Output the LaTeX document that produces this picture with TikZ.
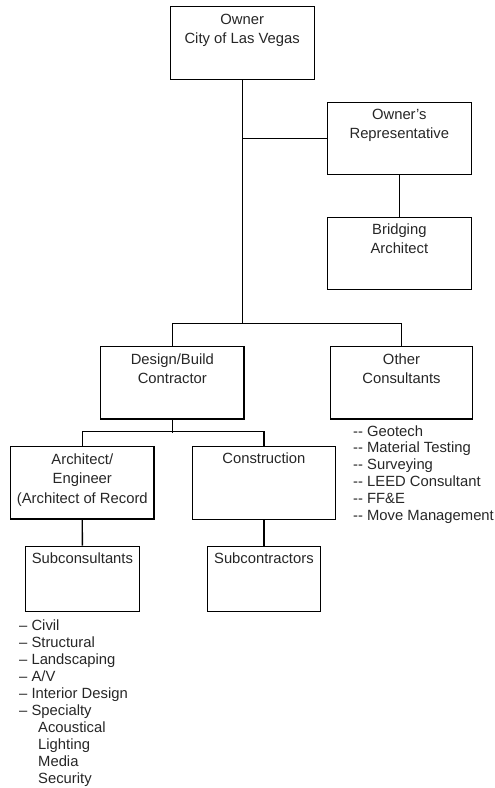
\documentclass[tikz,border=0pt]{standalone}
\usepackage{fontspec}
\setmainfont{Liberation Sans}
\usetikzlibrary{calc}
\tikzset{
  orgbox/.style={draw=black, line width=1.3pt, rectangle, inner sep=0pt, anchor=north west},
  boxtext/.style={align=center, inner sep=0pt, anchor=base, font=\fontsize{14.8}{19.5}\selectfont, text=black!85},
  listtext/.style={align=left, inner sep=0pt, anchor=base west, font=\fontsize{14.8}{16.9}\selectfont, text=black!85},
  conn/.style={draw=black, line width=1.3pt}
}
\begin{document}
\begin{tikzpicture}[x=1pt,y=-1pt]
\useasboundingbox (0,0) rectangle (495,788);
% boxes
\node[orgbox, minimum width=144pt, minimum height=73pt] (owner) at (169.5,6) {};
\node[orgbox, minimum width=144pt, minimum height=72.3pt] (rep) at (326.7,101.7) {};
\node[orgbox, minimum width=144pt, minimum height=72.3pt] (bridge) at (326.7,216.7) {};
\node[orgbox, minimum width=143.3pt, minimum height=72.3pt] (design) at (100,346) {};
\node[orgbox, minimum width=141.7pt, minimum height=72.3pt] (other) at (330,346) {};
\node[orgbox, minimum width=143.3pt, minimum height=72.3pt] (arch) at (10,446) {};
\node[orgbox, minimum width=143.5pt, minimum height=72.5pt] (cons) at (191.5,446) {};
\node[orgbox, minimum width=113.5pt, minimum height=65pt] (subcons) at (25,545.7) {};
\node[orgbox, minimum width=112.5pt, minimum height=64.7pt] (subcont) at (207,546) {};
% box texts (anchor base = baseline of the last line)
\node[boxtext] (ownert) at ($(owner.north)+(0,37.5)$) {Owner\\City of Las Vegas};
\node[boxtext] (rept) at ($(rep.north)+(0,37.2)$) {Owner's\\Representative};
\node[boxtext] (bridget) at ($(bridge.north)+(0,37.2)$) {Bridging\\Architect};
\node[boxtext] (designt) at ($(design.north)+(0,37.5)$) {Design/Build\\Contractor};
\node[boxtext] (othert) at ($(other.north)+(0,37.5)$) {Other\\Consultants};
\node[boxtext] (archt) at ($(arch.north)+(0,57)$) {Architect/\\Engineer\\(Architect of Record};
\node[boxtext] (const) at ($(cons.north)+(0,17.5)$) {Construction};
\node[boxtext] (subconst) at ($(subcons.north)+(0,17.5)$) {Subconsultants};
\node[boxtext] (subcontt) at ($(subcont.north)+(0,17.5)$) {Subcontractors};
% lists
\node[listtext] (otherlist) at (353,520.5) {-{}- Geotech\\-{}- Material Testing\\-{}- Surveying\\-{}- LEED Consultant\\-{}- FF\&E\\-{}- Move Management};
\node[listtext] (subconslist) at (19,783) {\textendash{} Civil\\\textendash{} Structural\\\textendash{} Landscaping\\\textendash{} A/V\\\textendash{} Interior Design\\\textendash{} Specialty\\\hspace*{19pt}Acoustical\\\hspace*{19pt}Lighting\\\hspace*{19pt}Media\\\hspace*{19pt}Security};
% connectors
\coordinate (hbar) at (0,323.3);
\coordinate (lbar) at (0,431.7);
\draw[conn] (owner.south) -- (owner.south |- hbar);
\draw[conn] (rep.west) -- (rep.west -| owner.south);
\draw[conn] (rep.south) -- (bridge.north);
\draw[conn] (design.north) -- (design.north |- hbar) -- (other.north |- hbar) -- (other.north);
\draw[conn] (design.south) -- ($(design.south |- lbar)+(0,1)$);
\draw[conn] (arch.north) -- (arch.north |- lbar) -- (cons.north |- lbar) -- (cons.north);
\draw[conn] (arch.south) -- (subcons.north);
\draw[conn] (cons.south) -- (subcont.north);
\end{tikzpicture}
\end{document}
